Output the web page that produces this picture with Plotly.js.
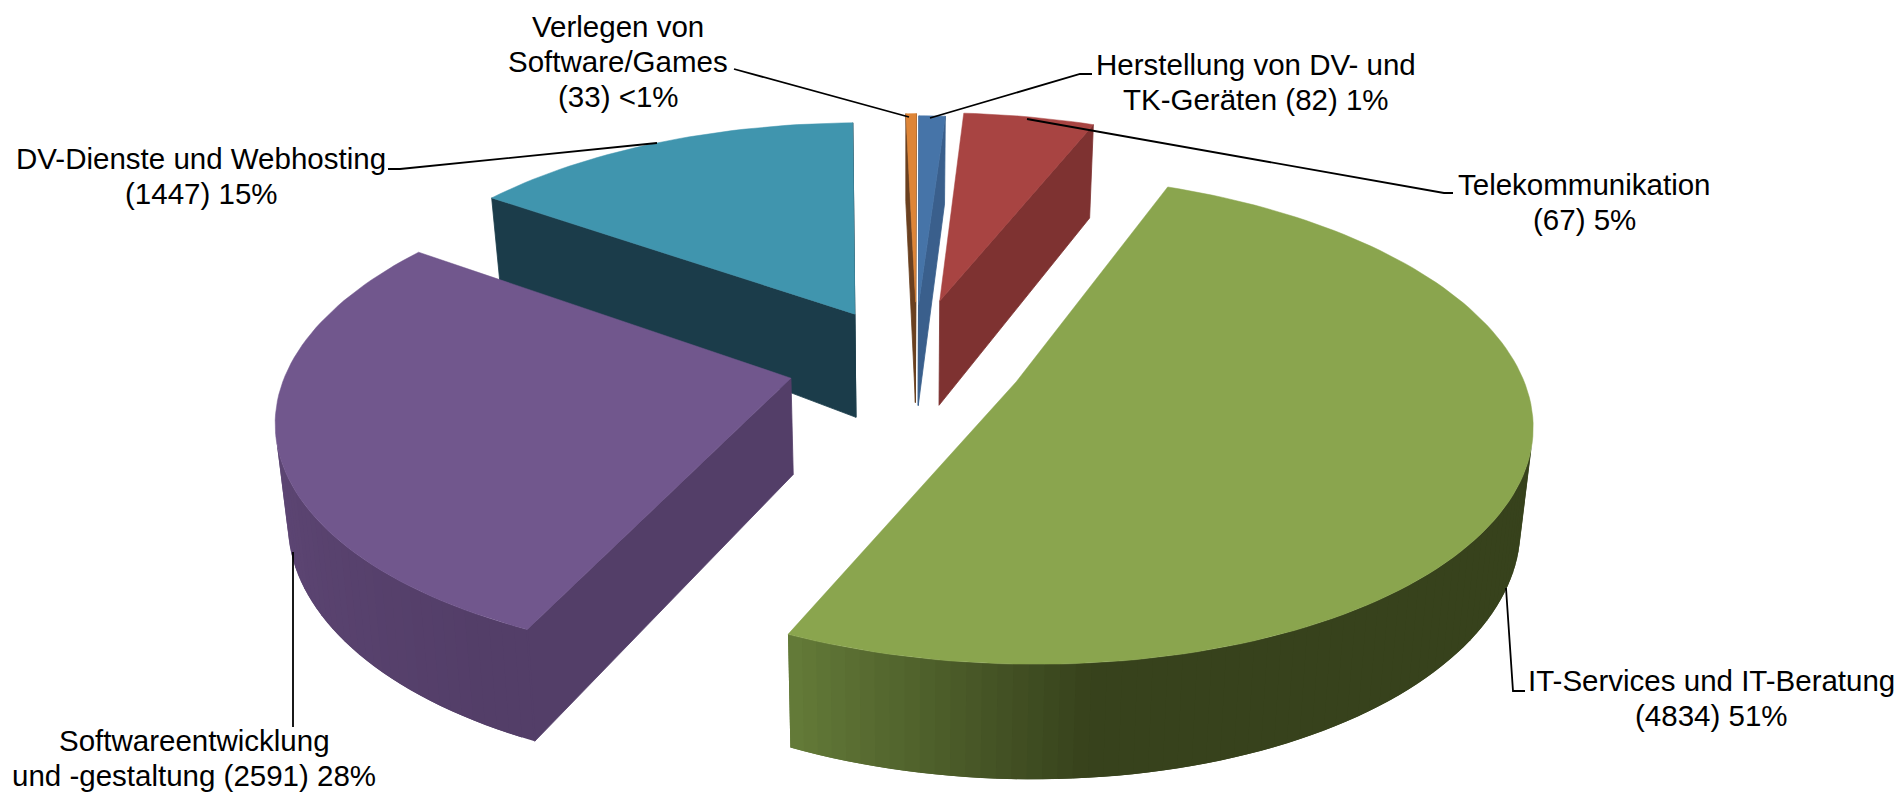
<!DOCTYPE html>
<html><head><meta charset="utf-8">
<script src="https://cdn.plot.ly/plotly-3.0.1.min.js"></script>
<style>html,body{margin:0;padding:0;background:#fff;overflow:hidden}#c{width:1903px;height:794px}</style>
</head><body><div id="c"></div>
<script>
// ---- data ----
const categories = ["IT-Services und IT-Beratung","Softwareentwicklung und -gestaltung","DV-Dienste und Webhosting","Verlegen von Software/Games","Herstellung von DV- und TK-Geräten","Telekommunikation"];
const counts = [4834, 2591, 1447, 33, 82, 67];
const shares = [51, 28, 15, 0.4, 1, 5];
const labelLines = [
  ["IT-Services und IT-Beratung","(4834) 51%"],
  ["Softwareentwicklung","und -gestaltung (2591) 28%"],
  ["DV-Dienste und Webhosting","(1447) 15%"],
  ["Verlegen von","Software/Games","(33) <1%"],
  ["Herstellung von DV- und","TK-Geräten (82) 1%"],
  ["Telekommunikation","(67) 5%"]
];
// ---- styling / geometry ----
const topColors  = ["#8aa54e","#71578d","#4095ae","#de8537","#4674a8","#a84442"];
const cutColors  = ["#637a38","#533e68","#1b3c4a","#6a4020","#3a5f8c","#7e3231"];
const wallLight  = ["#637a38","#5f4776","#1b3c4a","#6a4020","#3a5f8c","#7e3231"];
const wallDark   = ["#37421c","#533e68","#1b3c4a","#6a4020","#3a5f8c","#7e3231"];
const explodeU   = [0.219,-0.225,-0.103,0.022,0.028,0.072];
const explodeV   = [-0.105,-0.09,0.19,0.245,0.232,0.25];
const depthH     = [96,95,111,104,104,107.6];
const depthK     = [0.15,0.15,0.4,0.15,0.15,0.13];
const labelPos   = [[1711,680],[194,740],[201,158],[618,26],[1256,64],[1584,184]];
const leaders = [
  [[1506,588],[1513,691],[1525,691]],
  [[293,552],[293,727]],
  [[657,143],[400,169],[388,169]],
  [[909,117],[734,69]],
  [[930,118],[1080,74],[1092,74]],
  [[1027,119],[1444,193],[1453,193]]
];
const START=21.8, CX=905, CY=357, RX=500, RY=232, K=0.15, ZS=0.98, FONT=29.5, LINE=35;

const rad=d=>d*Math.PI/180;
function proj(u,v,idx,bottom){
  const s=1/(1+K*v);
  const zs=bottom?ZS:1;
  const dz=bottom?depthH[idx]/(1+depthK[idx]*v):0;
  return [CX+RX*u*s*zs, CY-RY*v*s+dz];
}
function hex(c){return [1,3,5].map(i=>parseInt(c.substr(i,2),16));}
function mix(a,b,t){t=Math.max(0,Math.min(1,t));const A=hex(a),B=hex(b);
  return "rgb("+A.map((x,i)=>Math.round(x+(B[i]-x)*t)).join(",")+")";}
function poly(pts,color,lw){
  return {type:"scatter",mode:"lines",x:pts.map(p=>p[0]).concat(pts[0][0]),y:pts.map(p=>p[1]).concat(pts[0][1]),
    fill:"toself",fillcolor:color,line:{color:color,width:lw},hoverinfo:"skip",showlegend:false};
}
function seam(a,b,color){
  return {type:"scatter",mode:"lines",x:[a[0],b[0]],y:[a[1],b[1]],line:{color:color,width:2},hoverinfo:"skip",showlegend:false};
}
function area(p){let a=0;for(let i=0;i<p.length;i++){const q=p[(i+1)%p.length];a+=p[i][0]*q[1]-q[0]*p[i][1];}return a/2;}

const total=shares.reduce((a,b)=>a+b,0);
let ang=START;
const slices=shares.map((s,i)=>{const a0=ang,a1=ang+s/total*360;ang=a1;return {i,a0,a1};});
const paint=[3,4,5,2,1,0];
const traces=[];
paint.forEach(idx=>{
  const S=slices[idx];
  const ou=explodeU[idx],ov=explodeV[idx];
  const n=Math.max(4,Math.ceil((S.a1-S.a0)/1.5));
  const rim=[];
  for(let j=0;j<=n;j++){const th=S.a0+(S.a1-S.a0)*j/n;rim.push({th,u:ou+Math.sin(rad(th)),v:ov+Math.cos(rad(th))});}
  const apex={u:ou,v:ov};
  const shade=th=>{
    if(idx===0) return mix(wallDark[0],wallLight[0],(th-175)/(204-175));
    if(idx===1) return mix(wallDark[1],wallLight[1],(th-210)/(265-210));
    return wallLight[idx];
  };
  const quad=(a,b)=>[proj(a.u,a.v,idx,false),proj(b.u,b.v,idx,false),proj(b.u,b.v,idx,true),proj(a.u,a.v,idx,true)];
  const c0=quad(apex,rim[0]), c1=quad(rim[n],apex);
  // outer wall strips overlap their neighbour so no seams show
  let wallVisibleAtStart=false;
  for(let j=0;j<n;j++){
    const q=quad(rim[j],rim[Math.min(n,j+2)]);
    if(area(quad(rim[j],rim[j+1]))<0){
      traces.push(poly(q,shade((rim[j].th+rim[j+1].th)/2),0));
      if(j===0) wallVisibleAtStart=true;
    }
  }
  if(area(c0)<0) traces.push(poly(c0,cutColors[idx],0.8));
  if(area(c1)<0) traces.push(poly(c1,cutColors[idx],0.8));
  if(wallVisibleAtStart && area(c0)<0){
    const a=proj(rim[0].u,rim[0].v,idx,false), b=proj(rim[0].u,rim[0].v,idx,true);
    traces.push(seam(a,[b[0],b[1]-1],cutColors[idx]));
  }
  const top=[proj(apex.u,apex.v,idx,false)].concat(rim.map(r=>proj(r.u,r.v,idx,false)));
  traces.push(poly(top,topColors[idx],0.5));
});

const annotations=[];
labelLines.forEach((ls,i)=>ls.forEach((t,j)=>annotations.push({
  xref:"x",yref:"y",x:labelPos[i][0],y:labelPos[i][1]+j*LINE,text:t.replace("<","&lt;"),showarrow:false,
  xanchor:"center",yanchor:"middle",font:{family:"Liberation Sans, Arial, sans-serif",size:FONT,color:"#000"}
})));
const shapes=leaders.map(p=>({type:"path",xref:"x",yref:"y",layer:"above",
  path:"M"+p.map(q=>q[0]+" "+q[1]).join("L"),line:{color:"#000",width:1.8}}));

Plotly.newPlot("c",traces,{
  width:1903,height:794,margin:{l:0,r:0,t:0,b:0},paper_bgcolor:"#fff",plot_bgcolor:"#fff",showlegend:false,
  xaxis:{range:[0,1903],visible:false,fixedrange:true},
  yaxis:{range:[794,0],visible:false,fixedrange:true},
  annotations,shapes
},{displayModeBar:false,staticPlot:true});
</script></body></html>
